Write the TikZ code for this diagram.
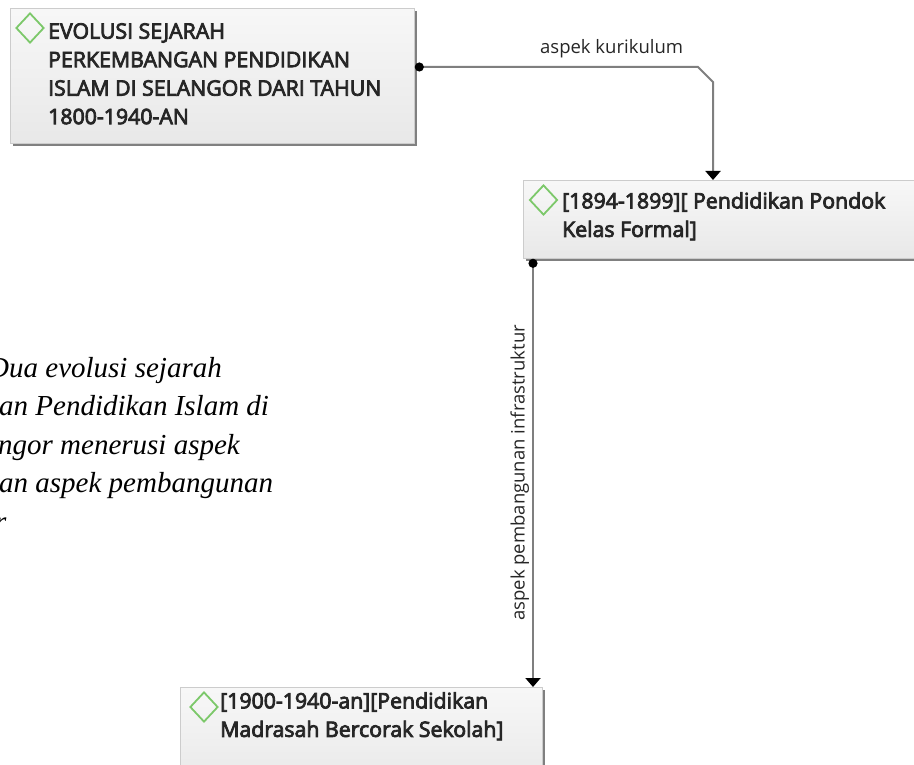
\documentclass[tikz,border=0pt]{standalone}
\usepackage{fontspec}
\setmainfont{Liberation Serif}
\newfontfamily\uifont{Open Sans}
\newcommand\semion{\special{pdf:literal 2 Tr 0.8 w}}
\newcommand\semioff{\special{pdf:literal 0 Tr 0.4 w}}
\usetikzlibrary{arrows.meta,positioning,shadows,shapes.geometric,calc}

\definecolor{gemgreen}{HTML}{7CC86A}
\definecolor{linkgray}{HTML}{7F7F7F}

\tikzset{
  card/.style={draw=black!20, line width=0.8pt, top color=black!3, bottom color=black!9,
    inner sep=0pt, anchor=north west,
    drop shadow={shadow xshift=3pt, shadow yshift=-3pt, fill=black!50, opacity=1}},
  cardtext/.style={font=\uifont\fontsize{21.3}{28.5}\selectfont, align=left,
    inner sep=0pt, anchor=north west, text=black!85},
  gem/.style={diamond, draw=gemgreen, line width=1.8pt, minimum width=28pt,
    minimum height=30pt, inner sep=0pt},
  link/.style={draw=linkgray, line width=2pt,
    {Circle[black,length=9pt]}-{Triangle[black,length=9pt,width=15pt]}},
  linklabel/.style={font=\uifont\fontsize{18.5}{20}\selectfont, text=black!85, inner sep=0pt},
  captext/.style={font=\itshape\fontsize{29}{38.5}\selectfont, anchor=base west, inner sep=0pt}
}

\begin{document}
\begin{tikzpicture}[x=1pt,y=-1pt]
  \useasboundingbox (0,0) rectangle (914,765);
  \clip (0,0) rectangle (914,765);

  % boxes
  \node[card, minimum width=404pt, minimum height=135pt] (evo) at (10,8) {};
  \node[gem] (evogem) at (30,28) {};
  \node[cardtext] (evotext) at (48,23) {\semion EVOLUSI SEJARAH\\PERKEMBANGAN PENDIDIKAN\\ISLAM DI SELANGOR DARI TAHUN\\1800-1940-AN\semioff};

  \node[card, minimum width=420pt, minimum height=78pt] (pondok) at (523,180) {};
  \node[gem] (pondokgem) at (543.5,200) {};
  \node[cardtext] (pondoktext) at (562,192) {\semion[1894-1899][ Pendidikan Pondok\\Kelas Formal]\semioff};

  \node[card, minimum width=362pt, minimum height=100pt] (madrasah) at (180,687) {};
  \node[gem] (madrasahgem) at (204,707) {};
  \node[cardtext] (madrasahtext) at (220,692) {\semion[1900-1940-an][Pendidikan\\Madrasah Bercorak Sekolah]\semioff};

  % connectors
  \coordinate (kink) at (698,67);
  \coordinate (bend) at (713,82);
  \draw[link] (evo.east |- kink) -- node[linklabel, pos=0.695, above=8.5pt] (kurlabel) {aspek kurikulum} (kink) -- (bend) -- (bend |- pondok.north);

  \coordinate (drop) at ([xshift=10pt]pondok.south west);
  \draw[link] (drop) -- node[linklabel, midway, rotate=90, anchor=south, outer ysep=4pt] (inflabel) {aspek pembangunan infrastruktur} (drop |- madrasah.north);

  % caption, cut at the left edge
  \node[captext] (cap1) at (-12,377) {Dua evolusi sejarah};
  \node[captext] (cap2) at (-1,415.5) {an Pendidikan Islam di};
  \node[captext] (cap3) at (-2,454) {ngor menerusi aspek};
  \node[captext] (cap4) at (-1,492.5) {an aspek pembangunan};
  \node[captext] (cap5) at (-5,531) {r};
\end{tikzpicture}
\end{document}
